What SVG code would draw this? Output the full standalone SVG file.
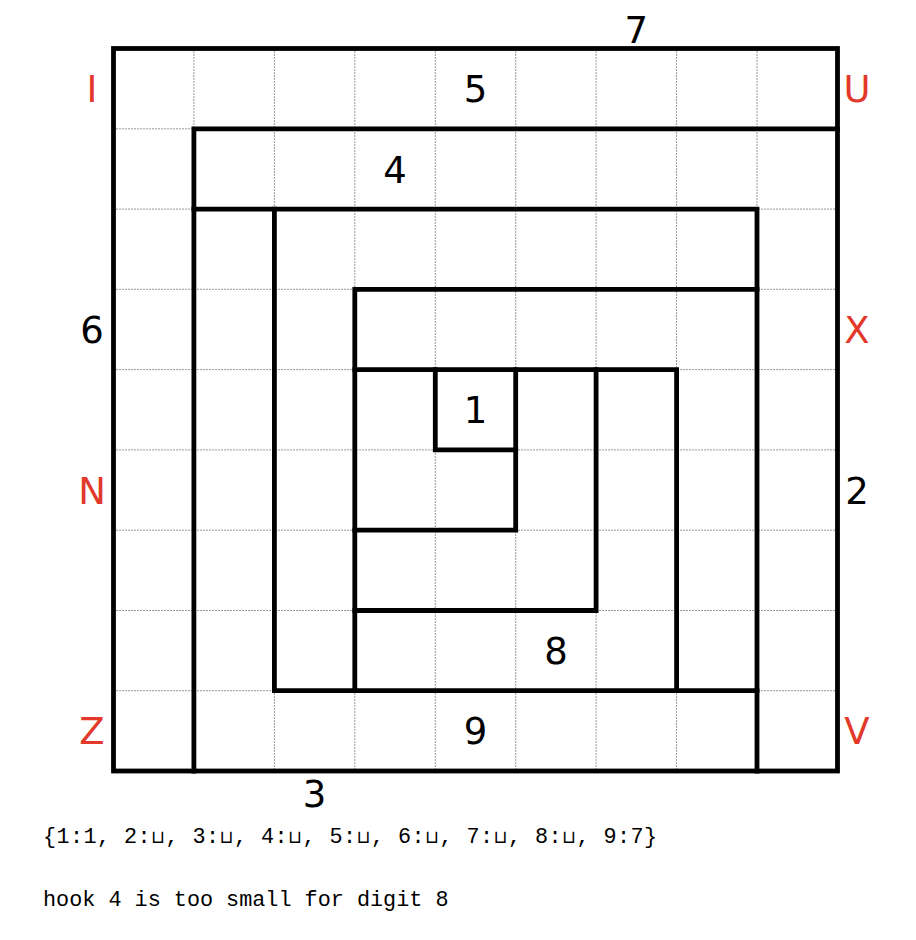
<svg xmlns="http://www.w3.org/2000/svg" width="916" height="940" viewBox="0 0 916 940">
<style>
.grid{stroke:#333;stroke-width:1;stroke-dasharray:1 2;fill:none}
.wall{stroke:#000;stroke-width:4.8;fill:none;stroke-linecap:square;stroke-linejoin:miter}
.num{font-family:"DejaVu Sans",sans-serif;font-size:37px;fill:#000;text-anchor:middle}
.let{font-family:"DejaVu Sans",sans-serif;font-size:37px;fill:#e3392b;text-anchor:middle}
.mono{font-family:"Liberation Mono","DejaVu Sans Mono",monospace;font-size:21.8px;fill:#000}
.cup{font-family:"DejaVu Sans",sans-serif;font-size:18px}
</style>
<rect width="916" height="940" fill="#fff"/>
<g id="grid">
<path class="grid" d="M193.9 48.5V771M274.4 48.5V771M354.8 48.5V771M435.3 48.5V771M515.7 48.5V771M596.1 48.5V771M676.6 48.5V771M757 48.5V771M113.5 128.8H837.5M113.5 209.1H837.5M113.5 289.3H837.5M113.5 369.6H837.5M113.5 449.9H837.5M113.5 530.2H837.5M113.5 610.5H837.5M113.5 690.7H837.5"/>
</g>
<g id="walls">
<rect class="wall" x="113.5" y="48.5" width="724" height="722.5"/>
<path class="wall" d="M837.5 128.8H193.9V771"/>
<path class="wall" d="M757 771V209.1H193.9"/>
<path class="wall" d="M274.4 209.1V690.7H757"/>
<path class="wall" d="M757 289.3H354.8V690.7"/>
<path class="wall" d="M354.8 369.6H676.6V690.7"/>
<path class="wall" d="M596.1 369.6V610.5H354.8"/>
<path class="wall" d="M435.3 369.6V449.9H515.7"/>
<path class="wall" d="M515.7 369.6V530.2H354.8"/>
</g>
<g id="numbers">
<text class="num" x="636.3" y="43">7</text>
<text class="num" x="475.5" y="102">5</text>
<text class="num" x="395" y="182.5">4</text>
<text class="num" x="475.5" y="423">1</text>
<text class="num" x="555.9" y="664">8</text>
<text class="num" x="475.5" y="744.4">9</text>
<text class="num" x="314.6" y="807">3</text>
<text class="num" x="92" y="343">6</text>
<text class="num" x="857" y="503.5">2</text>
</g>
<g id="letters">
<text class="let" x="92" y="102">I</text>
<text class="let" x="857" y="102">U</text>
<text class="let" x="857" y="343">X</text>
<text class="let" x="92" y="503.5">N</text>
<text class="let" x="92" y="744.4">Z</text>
<text class="let" x="857" y="744.4">V</text>
</g>
<g id="notes">
<text class="mono" x="43" y="843" textLength="614" lengthAdjust="spacing">{1:1, 2:<tspan class="cup">⊔</tspan>, 3:<tspan class="cup">⊔</tspan>, 4:<tspan class="cup">⊔</tspan>, 5:<tspan class="cup">⊔</tspan>, 6:<tspan class="cup">⊔</tspan>, 7:<tspan class="cup">⊔</tspan>, 8:<tspan class="cup">⊔</tspan>, 9:7}</text>
<text class="mono" x="43" y="906">hook 4 is too small for digit 8</text>
</g>
</svg>
